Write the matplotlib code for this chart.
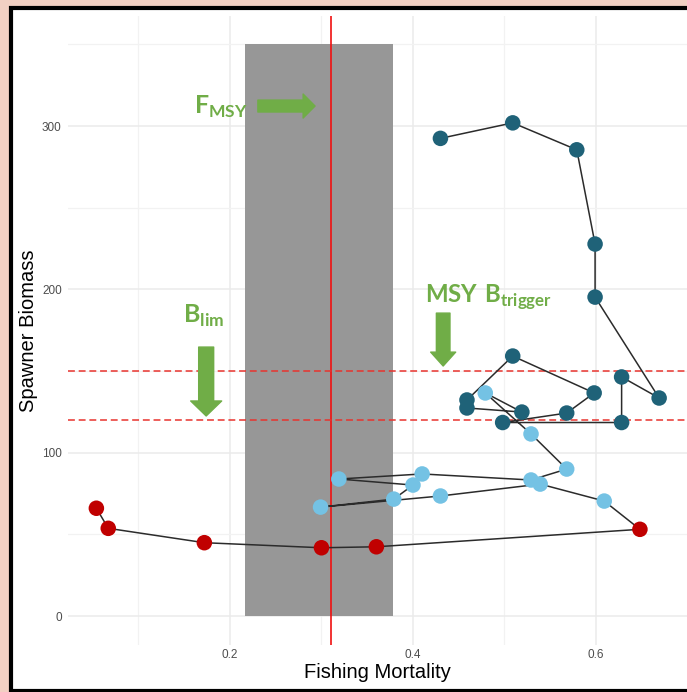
import matplotlib
matplotlib.use("Agg")
import matplotlib.pyplot as plt
from matplotlib.patches import Rectangle

plt.rcParams['font.family'] = ['Liberation Sans', 'DejaVu Sans']
plt.rcParams['mathtext.fontset'] = 'custom'
plt.rcParams['mathtext.rm'] = 'Lato'
plt.rcParams['mathtext.bf'] = 'Lato:bold'

# stock trajectory, in path order (period: 0 = early, 1 = middle, 2 = recent)
fishing_mortality = [0.430, 0.509, 0.579, 0.599, 0.599, 0.669, 0.628, 0.628, 0.498,
                     0.568, 0.598, 0.509, 0.459, 0.459, 0.519,
                     0.479, 0.529, 0.568, 0.529, 0.410, 0.319, 0.400, 0.379, 0.299,
                     0.430, 0.539, 0.609,
                     0.648, 0.360, 0.300, 0.172, 0.067, 0.054]
spawner_biomass = [292.5, 302.0, 285.5, 227.8, 195.3, 133.5, 146.4, 118.5, 118.5,
                   124.3, 136.6, 159.2, 132.3, 127.4, 124.9,
                   136.6, 111.5, 90.0, 83.3, 87.0, 83.9, 80.2, 71.6, 66.7,
                   73.5, 80.8, 70.4,
                   53.1, 42.4, 41.8, 44.9, 53.7, 66.0]
period = [0] * 15 + [1] * 12 + [2] * 6
period_colors = ['#1F6278', '#74C2E4', '#C00000']

# reference points
f_msy = 0.31
f_range = (0.216, 0.378)
range_top = 350
b_lim = 120
msy_btrigger = 150

green = '#70AD47'

fig = plt.figure(figsize=(6.87, 6.92), dpi=100, facecolor='#F2D0C3')
# black frame around the white plot area
frame = Rectangle((11 / 687, 1.5 / 692), 1.2, 682.5 / 692, transform=fig.transFigure,
                  facecolor='white', edgecolor='black', linewidth=3, zorder=-10)
fig.patches.append(frame)

ax = fig.add_axes([68 / 687, 47.4 / 692, 619.5 / 687, 628.7 / 692])
ax.patch.set_visible(False)
for s in ax.spines.values():
    s.set_visible(False)

ax.set_xlim(0.023, 0.70)
ax.set_ylim(-17.5, 367.5)
ax.set_xticks([0.2, 0.4, 0.6])
ax.set_xticklabels(['0.2', '0.4', '0.6'])
ax.set_yticks([0, 100, 200, 300])
ax.set_xticks([0.1, 0.3, 0.5, 0.7], minor=True)
ax.set_yticks([50, 150, 250, 350], minor=True)
ax.tick_params(which='both', length=0, labelsize=8.5, labelcolor='#4D4D4D')
ax.tick_params(axis='x', pad=3.5)
ax.tick_params(axis='y', pad=4.5)
ax.grid(True, which='major', color='#EBEBEB', linewidth=1.1, zorder=0)
ax.grid(True, which='minor', color='#F2F2F2', linewidth=0.9, zorder=0)
ax.set_axisbelow(True)

ax.bar((f_range[0] + f_range[1]) / 2, range_top, width=f_range[1] - f_range[0],
       color='#979797', zorder=1)
ax.axvline(f_msy, color='#F01010', linewidth=1.2, zorder=2)
ax.axhline(msy_btrigger, color='#E8332E', linewidth=1.1, linestyle=(0, (4.5, 2.5)), zorder=2)
ax.axhline(b_lim, color='#E8332E', linewidth=1.1, linestyle=(0, (4.5, 2.5)), zorder=2)

ax.plot(fishing_mortality, spawner_biomass, color='#2B2B2B', linewidth=1.1, zorder=3)
ax.scatter(fishing_mortality, spawner_biomass, s=125,
           c=[period_colors[p] for p in period], edgecolors='none', zorder=4)

ax.set_xlabel('Fishing Mortality', fontsize=14.5, labelpad=1)
ax.set_ylabel('Spawner Biomass', fontsize=14.5, labelpad=3)

# reference point labels and arrows
ax.text(0.161, 307.5, r'$\mathbf{F}_{\mathbf{MSY}}$', color=green, fontsize=18, va='baseline', zorder=5)
ax.text(0.149, 179.5, r'$\mathbf{B}_{\mathbf{lim}}$', color=green, fontsize=18, va='baseline', zorder=5)
ax.text(0.413, 191.7, r'$\mathbf{MSY\ B}_{\mathbf{trigger}}$', color=green, fontsize=17.3,
        va='baseline', zorder=5)

ax.annotate('', xy=(0.293, 312.3), xytext=(0.2305, 312.3), zorder=5,
            arrowprops=dict(arrowstyle='simple,head_length=0.86,head_width=1.73,tail_width=0.86',
                            color=green, shrinkA=0, shrinkB=0, mutation_scale=10))
ax.annotate('', xy=(0.174, 122.5), xytext=(0.174, 164.7), zorder=5,
            arrowprops=dict(arrowstyle='simple,head_length=1.08,head_width=2.23,tail_width=1.08',
                            color=green, shrinkA=0, shrinkB=0, mutation_scale=10))
ax.annotate('', xy=(0.433, 153.1), xytext=(0.433, 185.5), zorder=5,
            arrowprops=dict(arrowstyle='simple,head_length=1.0,head_width=1.8,tail_width=0.98',
                            color=green, shrinkA=0, shrinkB=0, mutation_scale=10))

fig.savefig('out.png', dpi=100, facecolor=fig.get_facecolor())
